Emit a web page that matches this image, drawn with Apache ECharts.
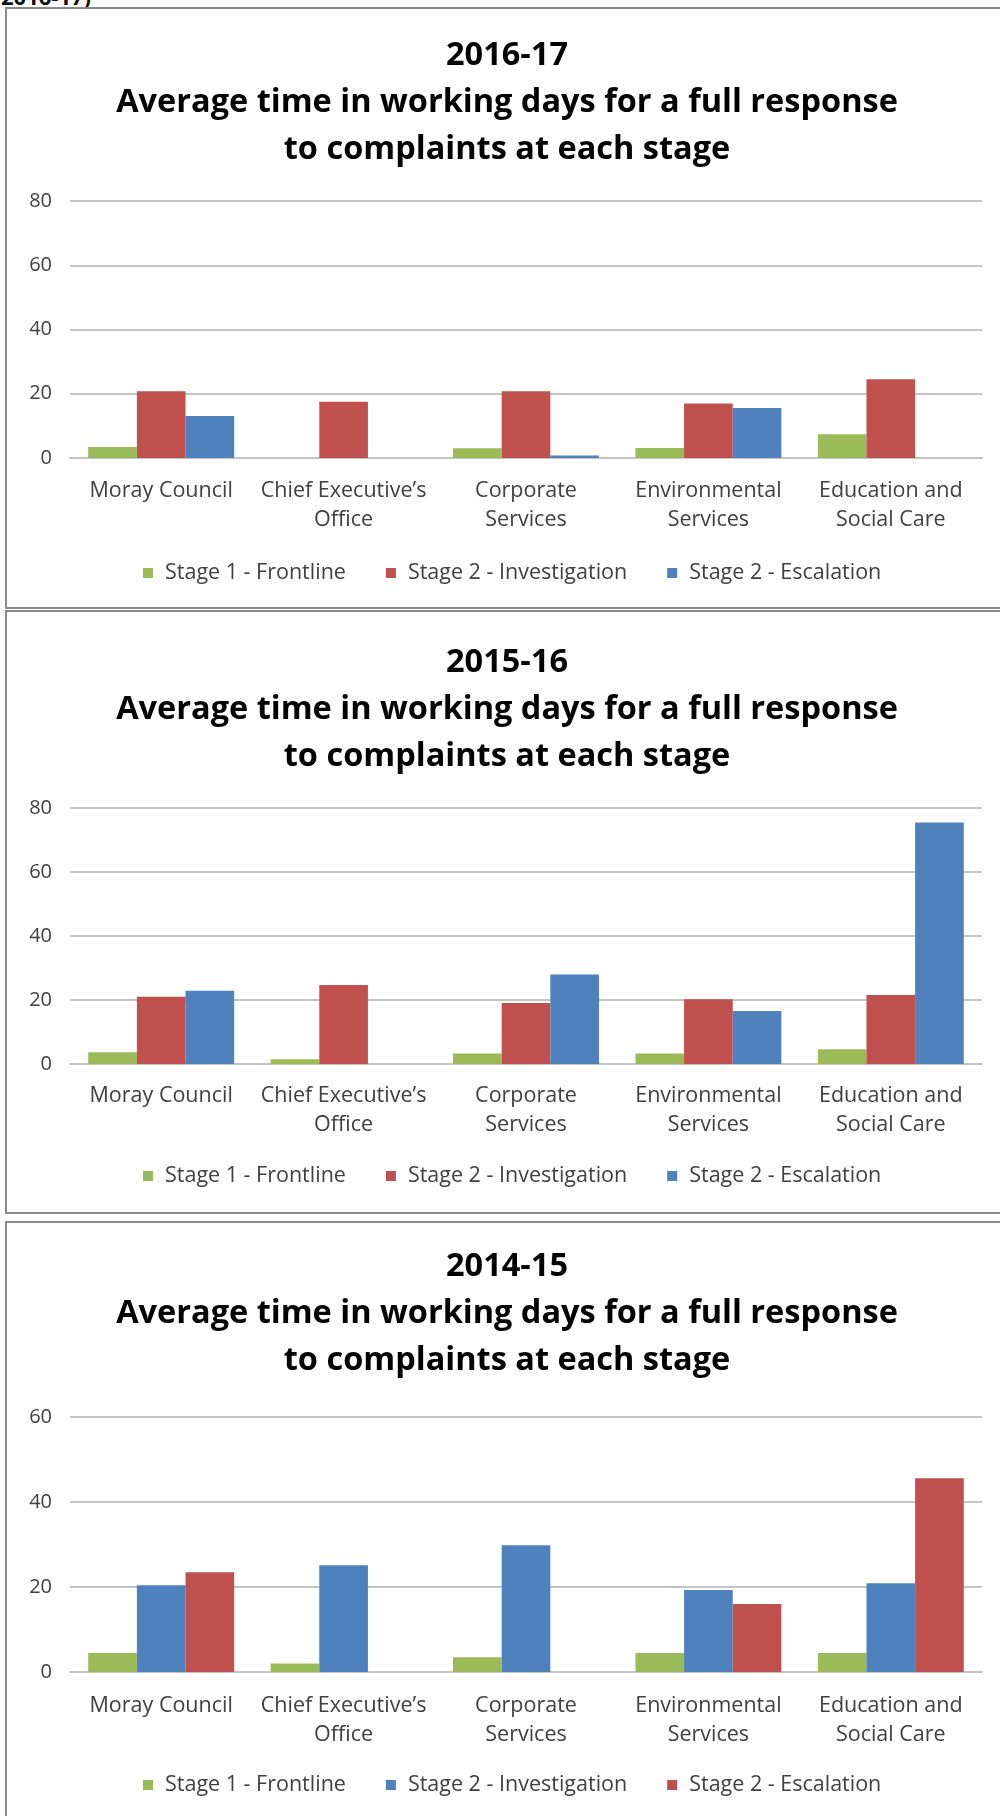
<!DOCTYPE html>
<html>
<head>
<meta charset="utf-8">
<script src="https://cdn.jsdelivr.net/npm/echarts@6.0.0/dist/echarts.min.js"></script>
<style>
  body { margin: 0; background: #fff; width: 1000px; height: 1816px; position: relative; overflow: hidden; }
  .panel { position: absolute; left: 5px; width: 1000px; border: 2px solid #8a8a8a; box-sizing: border-box; }
  .chart { position: absolute; left: 7px; width: 1000px; }
  .cut { position: absolute; left: 0; top: 0; width: 200px; height: 7px; overflow: hidden; }
  .cut span { position: absolute; left: 1px; top: -19px; font: bold 22px "Open Sans", sans-serif; color: #111; }
</style>
</head>
<body>
<div class="cut"><span>2016-17)</span></div>
<div class="panel" style="top:7px;height:602px"></div>
<div class="panel" style="top:610px;height:604px"></div>
<div class="panel" style="top:1221px;height:620px"></div>
<div id="c1617" class="chart" style="top:8px;height:600px"></div>
<div id="c1516" class="chart" style="top:611px;height:602px"></div>
<div id="c1415" class="chart" style="top:1222px;height:594px"></div>
<script>
// values (working days)
const categories = ['Moray Council', 'Chief Executive’s\nOffice', 'Corporate\nServices', 'Environmental\nServices', 'Education and\nSocial Care'];
const stageNames = ['Stage 1 - Frontline', 'Stage 2 - Investigation', 'Stage 2 - Escalation'];

const frontline1617 = [3.4, null, 3.0, 3.1, 7.4];
const investigation1617 = [20.8, 17.5, 20.8, 17.0, 24.5];
const escalation1617 = [13.1, null, 0.8, 15.6, null];

const frontline1516 = [3.7, 1.5, 3.3, 3.3, 4.6];
const investigation1516 = [21.0, 24.7, 19.1, 20.2, 21.6];
const escalation1516 = [22.9, null, 28.0, 16.6, 75.5];

const frontline1415 = [4.5, 2.0, 3.5, 4.5, 4.5];
const investigation1415 = [20.4, 25.1, 29.8, 19.3, 20.9];
const escalation1415 = [23.5, null, null, 16.0, 45.6];

const GREEN = '#9BBB59';
const RED = '#C0504D';
const BLUE = '#4F81BD';
const textColor = '#404040';
const gridColor = '#c4c4c4';
const fontName = 'Open Sans';
const subtitle = 'Average time in working days for a full response\nto complaints at each stage';

function drawPanel(id, year, yMax, series, colors, lay) {
    const chart = echarts.init(document.getElementById(id));
    chart.setOption({
        animation: false,
        title: {
            text: year + '\n' + subtitle,
            left: 'center',
            top: lay.titleTop,
            padding: 0,
            textStyle: {
                fontFamily: fontName,
                fontSize: 32.5,
                fontWeight: 'bold',
                lineHeight: 47,
                color: '#000'
            }
        },
        legend: {
            data: stageNames,
            left: 131,
            top: lay.legendTop,
            icon: 'rect',
            itemWidth: 10,
            itemHeight: 10,
            itemGap: 40,
            textStyle: {
                fontFamily: fontName,
                fontSize: 21.5,
                color: textColor,
                padding: [0, 0, 0, 7]
            }
        },
        grid: {
            left: 63,
            right: 25,
            top: lay.gridTop,
            height: lay.gridHeight
        },
        xAxis: {
            type: 'category',
            data: categories,
            axisTick: { show: false },
            axisLine: { lineStyle: { color: gridColor, width: 2 } },
            axisLabel: {
                interval: 0,
                margin: lay.labelMargin,
                fontFamily: fontName,
                fontSize: 21.5,
                lineHeight: 29,
                color: textColor
            }
        },
        yAxis: {
            type: 'value',
            min: 0,
            max: yMax,
            interval: 20,
            axisLine: { show: false },
            axisTick: { show: false },
            axisLabel: {
                margin: 18,
                fontFamily: fontName,
                fontSize: 20,
                color: textColor
            },
            splitLine: { lineStyle: { color: gridColor, width: 2 } }
        },
        series: series.map((d, i) => ({
            name: stageNames[i],
            type: 'bar',
            data: d,
            barGap: '0%',
            barCategoryGap: '20%',
            itemStyle: { color: colors[i] }
        }))
    });
}

drawPanel('c1617', '2016-17', 80,
    [frontline1617, investigation1617, escalation1617],
    [GREEN, RED, BLUE],
    { titleTop: 24, gridTop: 193, gridHeight: 257, legendTop: 549, labelMargin: 18 });

drawPanel('c1516', '2015-16', 80,
    [frontline1516, investigation1516, escalation1516],
    [GREEN, RED, BLUE],
    { titleTop: 28, gridTop: 197, gridHeight: 256, legendTop: 549, labelMargin: 17 });

drawPanel('c1415', '2014-15', 60,
    [frontline1415, investigation1415, escalation1415],
    [GREEN, BLUE, RED],
    { titleTop: 21, gridTop: 195, gridHeight: 255, legendTop: 547, labelMargin: 19 });
</script>
</body>
</html>
